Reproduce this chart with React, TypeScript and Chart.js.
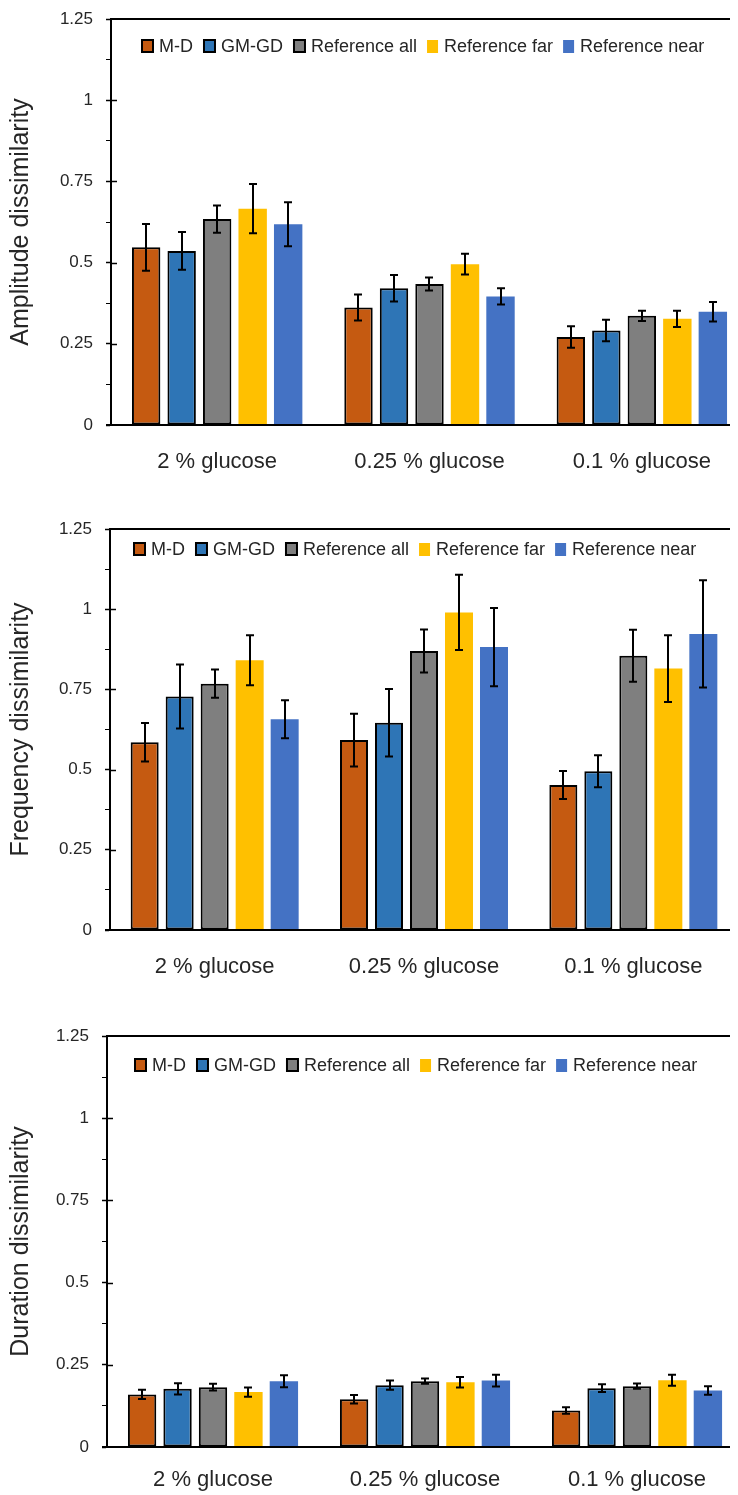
import React, { useEffect, useRef } from "react";
import { Chart, registerables } from "chart.js";

Chart.register(...registerables);

// ---------- data ----------
const categories = ["2 % glucose", "0.25 % glucose", "0.1 % glucose"];
const seriesNames = ["M-D", "GM-GD", "Reference all", "Reference far", "Reference near"];
const seriesColors = ["#C55A11", "#2E75B6", "#7F7F7F", "#FFC000", "#4472C4"];
const seriesBordered = [true, true, true, false, false];
const yTickLabels = ["0", "0.25", "0.5", "0.75", "1", "1.25"];

// Amplitude dissimilarity
const ampMD = [0.547, 0.362, 0.271];
const ampGM = [0.536, 0.421, 0.291];
const ampAll = [0.634, 0.434, 0.336];
const ampFar = [0.666, 0.495, 0.327];
const ampNear = [0.618, 0.396, 0.349];
const ampErrMD = [0.072, 0.04, 0.033];
const ampErrGM = [0.058, 0.041, 0.033];
const ampErrAll = [0.042, 0.02, 0.016];
const ampErrFar = [0.076, 0.032, 0.025];
const ampErrNear = [0.068, 0.025, 0.03];

// Frequency dissimilarity
const freqMD = [0.585, 0.592, 0.452];
const freqGM = [0.728, 0.646, 0.495];
const freqAll = [0.768, 0.87, 0.855];
const freqFar = [0.841, 0.99, 0.815];
const freqNear = [0.657, 0.882, 0.923];
const freqErrMD = [0.06, 0.082, 0.044];
const freqErrGM = [0.1, 0.105, 0.05];
const freqErrAll = [0.044, 0.067, 0.081];
const freqErrFar = [0.078, 0.117, 0.104];
const freqErrNear = [0.059, 0.122, 0.167];

// Duration dissimilarity
const durMD = [0.16, 0.145, 0.111];
const durGM = [0.177, 0.188, 0.179];
const durAll = [0.182, 0.2, 0.185];
const durFar = [0.167, 0.197, 0.203];
const durNear = [0.2, 0.202, 0.172];
const durErrMD = [0.014, 0.013, 0.01];
const durErrGM = [0.017, 0.014, 0.012];
const durErrAll = [0.01, 0.008, 0.008];
const durErrFar = [0.014, 0.016, 0.017];
const durErrNear = [0.018, 0.018, 0.013];

const FONT = "'Liberation Sans', Arial, sans-serif";
const TEXT = "#262626";

type PanelSpec = {
  title: string;
  values: number[][];
  errors: number[][];
  top: number;
  width: number;
  height: number;
  area: { left: number; top: number; right: number; bottom: number };
  legend: { dx: number; dy: number };
  labelPad: number;
};

const errorBarsPlugin = {
  id: "errorBars",
  afterDatasetsDraw(chart: any, _args: any, opts: any) {
    const { ctx } = chart;
    const yScale = chart.scales.y;
    ctx.save();
    ctx.strokeStyle = "#000";
    ctx.lineWidth = 2;
    chart.data.datasets.forEach((ds: any, i: number) => {
      const meta = chart.getDatasetMeta(i);
      meta.data.forEach((bar: any, j: number) => {
        const v = ds.data[j];
        const e = opts.errors[i][j];
        const x = Math.round(bar.x);
        const y1 = yScale.getPixelForValue(v + e);
        const y2 = yScale.getPixelForValue(v - e);
        ctx.beginPath();
        ctx.moveTo(x, y1);
        ctx.lineTo(x, y2);
        ctx.moveTo(x - 4, y1);
        ctx.lineTo(x + 4, y1);
        ctx.moveTo(x - 4, y2);
        ctx.lineTo(x + 4, y2);
        ctx.stroke();
      });
    });
    ctx.restore();
  },
};

const framePlugin = {
  id: "frame",
  afterDraw(chart: any, _args: any, opts: any) {
    const { ctx, chartArea } = chart;
    const W = chart.width;
    const yScale = chart.scales.y;
    ctx.save();
    ctx.strokeStyle = "#000";
    ctx.lineWidth = 2;
    ctx.beginPath();
    ctx.moveTo(chartArea.left - 1, Math.round(chartArea.top));
    ctx.lineTo(W, Math.round(chartArea.top));
    ctx.moveTo(chartArea.left - 5, Math.round(chartArea.bottom));
    ctx.lineTo(W, Math.round(chartArea.bottom));
    ctx.stroke();
    ctx.lineWidth = 1.5;
    yScale.ticks.forEach((t: any) => {
      const v = t.value;
      if (Math.abs(v * 4 - Math.round(v * 4)) < 1e-6 && v > 0 && v < 1.25) {
        const y = Math.round(yScale.getPixelForValue(v)) + 0.5;
        ctx.beginPath();
        ctx.moveTo(chartArea.left, y);
        ctx.lineTo(chartArea.left + 6, y);
        ctx.stroke();
      }
    });
    ctx.font = `18px ${FONT}`;
    ctx.textBaseline = "middle";
    ctx.textAlign = "left";
    let x = chartArea.left + opts.dx;
    const cy = chartArea.top + opts.dy;
    chart.data.datasets.forEach((ds: any, i: number) => {
      if (seriesBordered[i]) {
        ctx.fillStyle = ds.backgroundColor;
        ctx.fillRect(x + 1, cy - 6, 11, 12);
        ctx.lineWidth = 2;
        ctx.strokeStyle = "#000";
        ctx.strokeRect(x + 1, cy - 6, 11, 12);
        x += 13 + 5;
      } else {
        ctx.fillStyle = ds.backgroundColor;
        ctx.fillRect(x, cy - 6, 11, 13);
        x += 11 + 6;
      }
      ctx.fillStyle = TEXT;
      ctx.fillText(ds.label, x, cy + 1);
      x += ctx.measureText(ds.label).width + 10;
    });
    ctx.restore();
  },
};

function Panel({ spec }: { spec: PanelSpec }) {
  const ref = useRef<HTMLCanvasElement | null>(null);
  useEffect(() => {
    if (!ref.current) return;
    const a = spec.area;
    const chart = new Chart(ref.current, {
      type: "bar",
      data: {
        labels: categories,
        datasets: seriesNames.map((name, i) => ({
          label: name,
          data: spec.values[i],
          backgroundColor: seriesColors[i],
          borderColor: "#000",
          borderWidth: seriesBordered[i] ? 2 : 0,
          borderSkipped: false,
          categoryPercentage: 0.836,
          barPercentage: 0.8,
        })),
      },
      options: {
        animation: false,
        responsive: false,
        maintainAspectRatio: false,
        devicePixelRatio: 1,
        layout: {
          padding: { left: 0, top: a.top, right: spec.width - a.right, bottom: 0 },
        },
        plugins: {
          legend: { display: false },
          tooltip: { enabled: false },
          errorBars: { errors: spec.errors },
          frame: { dx: spec.legend.dx, dy: spec.legend.dy },
        } as any,
        scales: {
          x: {
            type: "category",
            grid: { display: false },
            border: { display: false },
            ticks: {
              color: TEXT,
              font: { family: FONT, size: 22 },
              padding: spec.labelPad,
              maxRotation: 0,
              autoSkip: false,
            },
            afterFit: (scale: any) => {
              scale.height = spec.height - a.bottom;
              scale.paddingLeft = 0;
              scale.paddingRight = 0;
            },
          },
          y: {
            min: 0,
            max: 1.25,
            grid: {
              drawOnChartArea: false,
              drawTicks: true,
              tickLength: 5,
              tickColor: "#000",
              tickWidth: (c: any) => {
                const v = c.tick ? c.tick.value : 0;
                return Math.abs(v * 4 - Math.round(v * 4)) < 1e-6 ? 1.5 : 1;
              },
            },
            border: { display: true, color: "#000", width: 2 },
            ticks: {
              stepSize: 0.125,
              autoSkip: false,
              color: TEXT,
              padding: 13,
              font: { family: FONT, size: 17 },
              callback: (val: any) => {
                const v = Number(val);
                const k = Math.round(v * 4);
                if (Math.abs(v * 4 - k) > 1e-6) return "";
                return yTickLabels[k] ?? "";
              },
            },
            title: {
              display: true,
              text: spec.title,
              color: TEXT,
              font: { family: FONT, size: 25 },
              padding: { top: 6, bottom: 0 },
            },
            afterFit: (scale: any) => {
              scale.width = a.left;
              scale.paddingTop = 0;
              scale.paddingBottom = 0;
            },
          },
        },
      },
      plugins: [errorBarsPlugin, framePlugin],
    } as any);
    return () => chart.destroy();
  }, [spec]);
  return (
    <canvas
      ref={ref}
      width={spec.width}
      height={spec.height}
      style={{
        position: "absolute",
        left: 0,
        top: spec.top,
        width: spec.width,
        height: spec.height,
        display: "block",
      }}
    />
  );
}

const panels: PanelSpec[] = [
  {
    title: "Amplitude dissimilarity",
    values: [ampMD, ampGM, ampAll, ampFar, ampNear],
    errors: [ampErrMD, ampErrGM, ampErrAll, ampErrFar, ampErrNear],
    top: 0,
    width: 760,
    height: 500,
    area: { left: 111, top: 19, right: 748, bottom: 425 },
    legend: { dx: 30, dy: 27 },
    labelPad: 16,
  },
  {
    title: "Frequency dissimilarity",
    values: [freqMD, freqGM, freqAll, freqFar, freqNear],
    errors: [freqErrMD, freqErrGM, freqErrAll, freqErrFar, freqErrNear],
    top: 500,
    width: 750,
    height: 500,
    area: { left: 110, top: 29, right: 738, bottom: 430 },
    legend: { dx: 23, dy: 20 },
    labelPad: 16,
  },
  {
    title: "Duration dissimilarity",
    values: [durMD, durGM, durAll, durFar, durNear],
    errors: [durErrMD, durErrGM, durErrAll, durErrFar, durErrNear],
    top: 1000,
    width: 755,
    height: 495,
    area: { left: 107, top: 36, right: 743, bottom: 447 },
    legend: { dx: 27, dy: 29 },
    labelPad: 12,
  },
];

export default function App() {
  return (
    <div
      style={{
        position: "relative",
        width: 738,
        height: 1495,
        overflow: "hidden",
        margin: "-8px 0 0 -8px",
        background: "#fff",
      }}
    >
      {panels.map((p, i) => (
        <Panel key={i} spec={p} />
      ))}
    </div>
  );
}
